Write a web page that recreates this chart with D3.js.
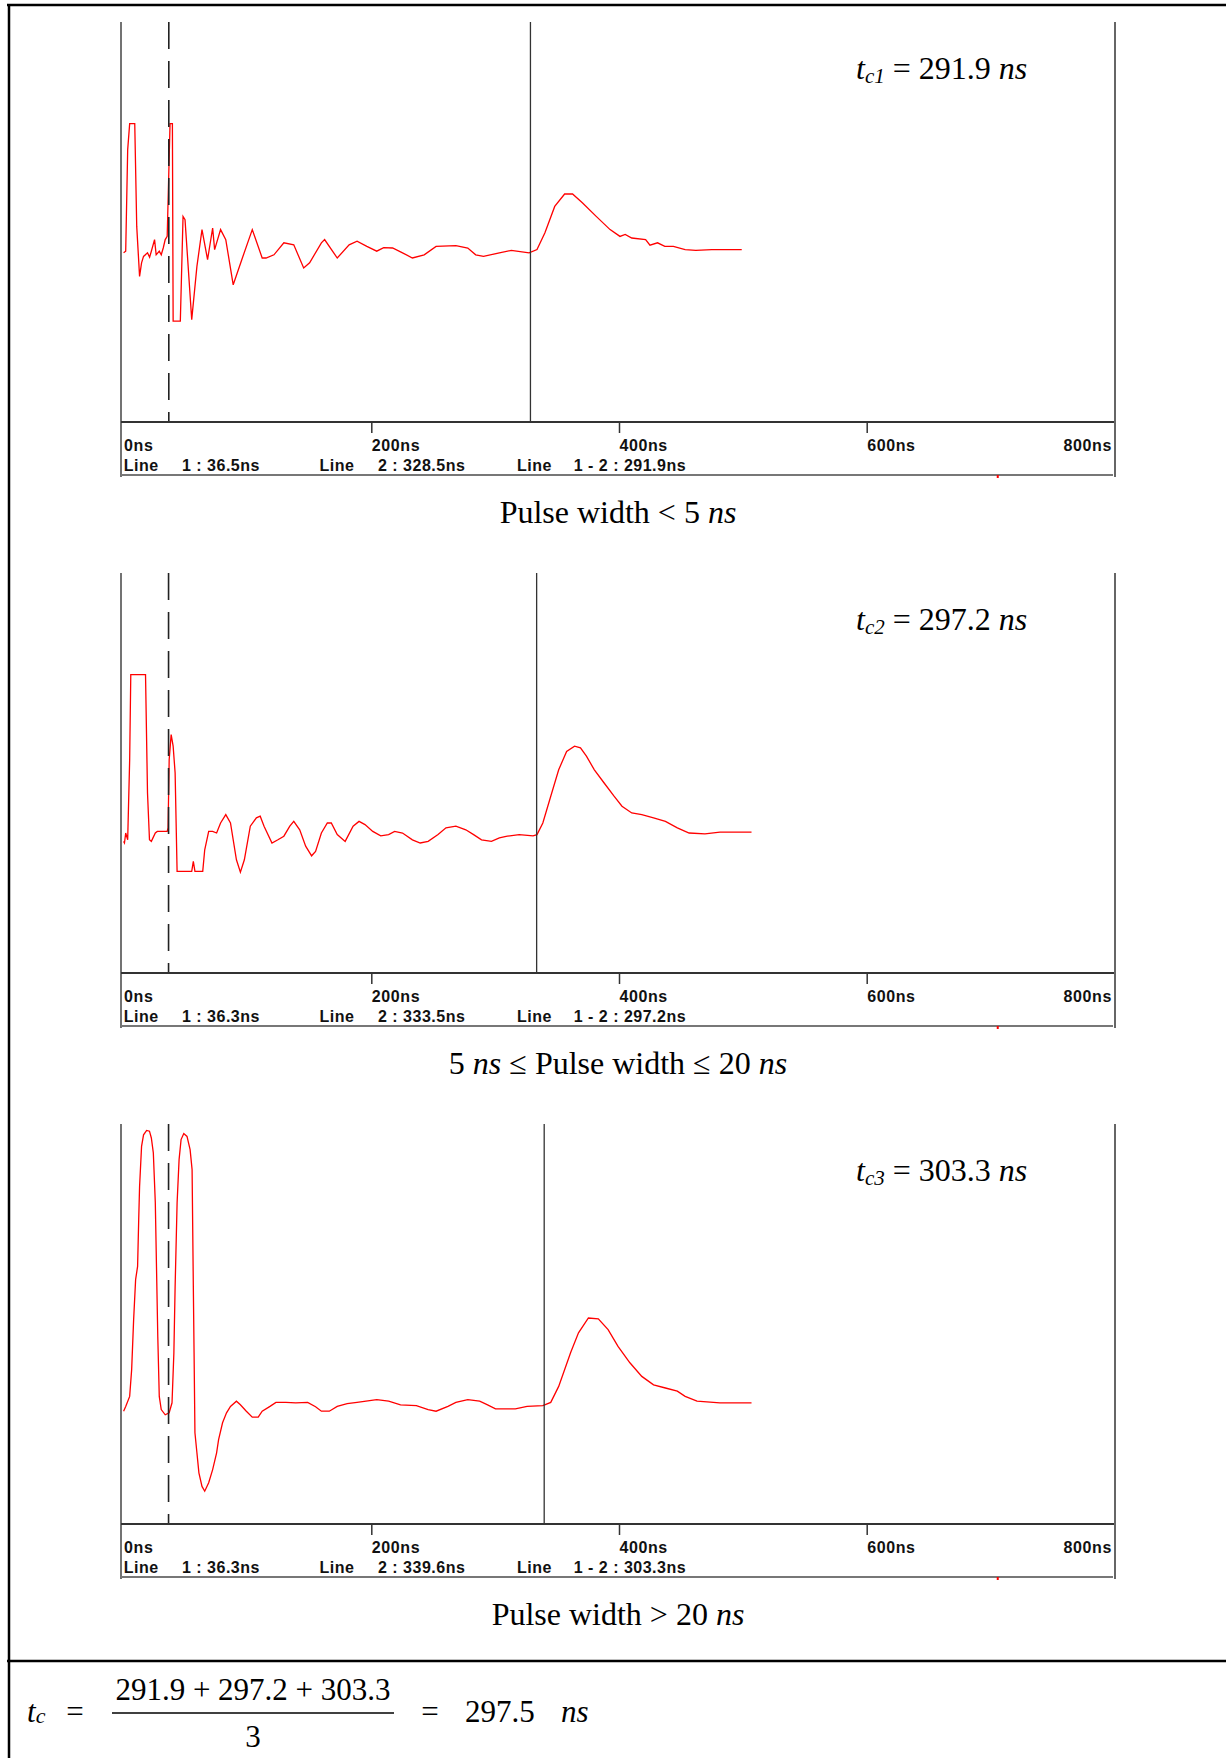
<!DOCTYPE html>
<html>
<head>
<meta charset="utf-8">
<script src="https://cdn.jsdelivr.net/npm/d3@7"></script>
<style>
  body { margin: 0; background: #fff; }
</style>
</head>
<body>
<div id="viz"></div>
<script>
const w = 1226;
const h = 1758;

// time axis ticks (ns)
const tickValues = [0, 200, 400, 600, 800];

// cursor readings for the three cases (ns)
const line1 = [36.5, 36.3, 36.3];
const line2 = [328.5, 333.5, 339.6];
const delta = [291.9, 297.2, 303.3];

// traces: [time in ns, amplitude in screen units, 0 = axis, 100 = top]
const trace1 = [
  [0, 42.3], [1.7, 42.7], [3.3, 68.1], [4.9, 74.6], [9.0, 74.6], [10.6, 48.9], [12.9, 36.4],
  [14.5, 39.8], [16.1, 41.4], [19.3, 42.3], [21, 41.2], [22.4, 42.7], [25.0, 45.6], [26.3, 41.8],
  [28.8, 42.7], [30.4, 41.8], [32.0, 43.5], [33.6, 45.6], [35.2, 46.4], [37.5, 74.6],
  [39.4, 74.6], [40.0, 25.2], [45.8, 25.2], [48.0, 51.4], [49.6, 50.6], [55.0, 25.6],
  [59.2, 38.9], [63.3, 48.1], [67.8, 40.6], [71.9, 48.5], [73.5, 43.1], [78.3, 48.1],
  [82.5, 45.6], [88.5, 34.3], [95.9, 41.0], [103.9, 48.1], [111.9, 41.0], [115.0, 41.0],
  [121.4, 41.8], [129.4, 44.8], [137.4, 44.3], [145.4, 38.5], [150.2, 39.8], [159.7, 44.8],
  [162.3, 45.6], [172.5, 41.0], [182.1, 44.3], [188.5, 45.2], [196.4, 43.9], [204.4, 42.7],
  [210, 43.6], [217.2, 43.5], [225.2, 42.3], [233.2, 41.0], [242.7, 41.8], [252.3, 43.9],
  [268.3, 44.1], [277.9, 43.5], [284.3, 41.8], [290.6, 41.4], [303.4, 42.3], [313.0, 42.9],
  [327.4, 42.3], [333.8, 43.1], [340.2, 47.3], [348.1, 53.9], [356.1, 57.0], [362.5, 57.0],
  [370.4, 54.8], [381.6, 51.4], [392.8, 48.1], [400.8, 46.4], [405, 46.9], [410.3, 46.0],
  [421.5, 45.6], [425, 44.2], [431.1, 44.8], [437, 43.9], [443.9, 43.9], [453.4, 43.1],
  [462.0, 42.9], [474.9, 43.1], [499.1, 43.1]
];
const trace2 = [
  [0, 32.9], [0.7, 32.5], [1.7, 35.0], [3.3, 33.3], [4.9, 53.3], [5.8, 74.6], [17.7, 74.6],
  [19.3, 45.0], [20.9, 33.3], [22.4, 32.9], [25.6, 35.0], [27.2, 35.4], [35.2, 35.4],
  [35.9, 36.3], [36.8, 53.3], [38.4, 59.6], [40.0, 56.7], [41.6, 50.0], [43.2, 25.4],
  [55.0, 25.4], [56.3, 27.9], [57.6, 25.4], [63.9, 25.4], [65.5, 30.8], [68.7, 35.4],
  [71.9, 35.4], [75.1, 35.0], [78.3, 37.5], [82.5, 39.6], [86.3, 37.5], [91.1, 28.3],
  [94.3, 25.2], [97.5, 28.3], [102.3, 36.7], [107.2, 38.8], [110.3, 39.2], [113.4, 36.7],
  [119.8, 32.5], [124.6, 33.3], [129.4, 34.2], [134.2, 36.7], [137.4, 37.9], [142.2, 35.8],
  [147.0, 31.7], [151.8, 29.3], [155.0, 30.4], [159.7, 35.0], [164.5, 37.5], [167.7, 37.5],
  [172.5, 34.6], [178.9, 32.9], [185.3, 36.7], [190.1, 37.9], [194.9, 37.1], [201.2, 35.4],
  [207.6, 34.3], [214.0, 34.6], [218.8, 35.4], [225.2, 35.0], [233.2, 33.3], [239.5, 32.5],
  [245.9, 32.9], [253.9, 34.6], [260.3, 36.3], [268.3, 36.7], [276.3, 35.8], [282.6, 34.6],
  [289.0, 33.3], [297.0, 32.9], [303.4, 33.8], [309.8, 34.2], [319.4, 34.6], [330.6, 34.3],
  [333.8, 34.6], [338.5, 37.5], [344.9, 44.2], [351.3, 50.8], [357.7, 55.4], [364.1, 56.7],
  [368.9, 56.3], [373.7, 54.2], [380.1, 50.8], [388.0, 47.5], [396.0, 44.2], [402.4, 41.7],
  [410.3, 40.0], [418.4, 39.6], [427.9, 38.8], [437.5, 37.9], [447.1, 36.3], [456.6, 35.0],
  [469.4, 34.8], [481.5, 35.2], [507, 35.2]
];
const trace3 = [
  [0, 28.2], [1.7, 29.4], [4.9, 31.9], [6.5, 38.6], [8.1, 51.1], [9.7, 61.1], [11.3, 64.4],
  [12.2, 76.1], [12.9, 84.4], [14.5, 94.4], [16.1, 97.3], [18.6, 98.4], [20.9, 98.2],
  [22.4, 96.5], [24.0, 92.8], [25.6, 80.3], [26.6, 63.6], [27.6, 46.9], [28.8, 31.9],
  [30.4, 28.6], [33.6, 27.3], [36.8, 27.8], [39.1, 30.3], [40.6, 42.8], [41.6, 59.4],
  [43.2, 80.3], [44.8, 91.1], [46.4, 96.1], [48.6, 97.6], [51.2, 96.9], [53.7, 93.6],
  [55.3, 88.6], [56.3, 59.4], [56.9, 42.8], [57.6, 22.8], [59.2, 17.8], [60.8, 12.8],
  [63.3, 9.4], [65.5, 8.2], [68.7, 10.3], [71.9, 13.6], [75.1, 17.8], [76.7, 21.1],
  [79.9, 25.3], [83.1, 27.8], [86.3, 29.4], [91.1, 30.7], [94.3, 29.8], [99.1, 28.2],
  [103.9, 26.7], [108.7, 26.7], [111.9, 28.2], [118.2, 29.4], [123.0, 30.4], [131.0, 30.4],
  [139.0, 30.3], [148.6, 30.4], [155.0, 29.3], [159.7, 28.2], [166.1, 28.2], [172.5, 29.4],
  [180.5, 30.1], [188.5, 30.4], [204.4, 31.1], [214.0, 30.7], [223.6, 29.8], [236.4, 29.6],
  [245.9, 28.6], [252.3, 28.2], [261.9, 29.4], [268.3, 30.4], [277.9, 31.1], [287.5, 30.7],
  [293.9, 29.8], [300.3, 28.8], [316.3, 28.8], [325.8, 29.4], [338.5, 29.6], [344.9, 30.4],
  [351.3, 34.4], [360.9, 42.8], [367.3, 47.8], [375.3, 51.5], [383.3, 51.3], [391.2, 48.6],
  [399.2, 44.4], [408.8, 40.3], [418.4, 36.9], [427.9, 34.8], [437.5, 34.0], [447.1, 33.2],
  [453.4, 31.9], [463.0, 30.7], [481.5, 30.3], [507, 30.3]
];
const traces = [trace1, trace2, trace3];

// captions under each panel: [text, italic?]
const captions = [
  [['Pulse width < 5 ', false], ['ns', true]],
  [['5 ', false], ['ns', true], [' \u2264 Pulse width \u2264 20 ', false], ['ns', true]],
  [['Pulse width > 20 ', false], ['ns', true]]
];

const serif = '"Liberation Serif", "Times New Roman", serif';
const sans = '"Liberation Sans", Arial, sans-serif';

const svg = d3.select('#viz').append('svg')
    .attr('width', w)
    .attr('height', h)
    .style('display', 'block');

svg.append('rect').attr('width', w).attr('height', h).attr('fill', '#fff');

// outer table lines
svg.append('line').attr('x1', 7).attr('x2', w).attr('y1', 5).attr('y2', 5)
    .attr('stroke', '#000').attr('stroke-width', 2.5);
svg.append('line').attr('x1', 9).attr('x2', 9).attr('y1', 4).attr('y2', h)
    .attr('stroke', '#000').attr('stroke-width', 2.5);
svg.append('line').attr('x1', 7).attr('x2', w).attr('y1', 1661).attr('y2', 1661)
    .attr('stroke', '#000').attr('stroke-width', 2.5);

const plotH = 400;
const left = 121;
const right = 1115;

const x = d3.scaleLinear().domain([0, 800]).range([123.6, 1114.4]);
const y = d3.scaleLinear().domain([0, 100]).range([plotH, 0]);

const line = d3.line().x(d => x(d[0])).y(d => y(d[1]));

traces.forEach((trace, i) => {
  const g = svg.append('g').attr('transform', `translate(0,${22 + i * 551})`);

  // frame
  g.append('line').attr('x1', left).attr('x2', left).attr('y1', 0).attr('y2', 455)
      .attr('stroke', '#444').attr('stroke-width', 1.5);
  g.append('line').attr('x1', right).attr('x2', right).attr('y1', 0).attr('y2', 455)
      .attr('stroke', '#666').attr('stroke-width', 2);
  g.append('line').attr('x1', left).attr('x2', right - 2).attr('y1', 453).attr('y2', 453)
      .attr('stroke', '#777').attr('stroke-width', 2);
  g.append('rect').attr('x', x(705)).attr('y', 453).attr('width', 2).attr('height', 3)
      .attr('fill', '#f00');

  // waveform
  g.append('path')
      .datum(trace)
      .attr('d', line)
      .attr('fill', 'none')
      .attr('stroke', '#ff0000')
      .attr('stroke-width', 1.3);

  // cursors
  g.append('line').attr('x1', x(line1[i])).attr('x2', x(line1[i]))
      .attr('y1', 0).attr('y2', plotH)
      .attr('stroke', '#222').attr('stroke-width', 1.6)
      .attr('stroke-dasharray', '27,12');
  g.append('line').attr('x1', x(line2[i])).attr('x2', x(line2[i]))
      .attr('y1', 0).attr('y2', plotH)
      .attr('stroke', '#333').attr('stroke-width', 1.3);

  // time axis
  g.append('line').attr('x1', left).attr('x2', right - 1).attr('y1', plotH).attr('y2', plotH)
      .attr('stroke', '#333').attr('stroke-width', 2);

  const axis = g.append('g')
      .attr('transform', `translate(0,${plotH})`)
      .call(d3.axisBottom(x).tickValues(tickValues).tickSize(11).tickFormat(d => d + 'ns'));
  axis.select('.domain').remove();
  axis.attr('font-family', sans).attr('font-size', 16).attr('font-weight', 'bold');
  axis.selectAll('.tick line')
      .attr('stroke', '#333').attr('stroke-width', 1.5)
      .attr('opacity', d => (d === 0 || d === 800) ? 0 : 1);
  axis.selectAll('.tick text')
      .attr('y', 28.5).attr('dy', null)
      .attr('fill', '#111')
      .attr('letter-spacing', 0.6)
      .attr('text-anchor', d => d === 800 ? 'end' : 'start')
      .attr('dx', d => d === 800 ? -3 : 0);

  // cursor readout row
  const readout = [
    [123.7, 'Line'], [182, `1 : ${line1[i]}ns`],
    [319.5, 'Line'], [378, `2 : ${line2[i]}ns`],
    [517, 'Line'], [573.7, `1 - 2 : ${delta[i]}ns`]
  ];
  g.selectAll('.readout').data(readout).enter().append('text')
      .attr('x', d => d[0]).attr('y', plotH + 48.5)
      .attr('font-family', sans).attr('font-size', 16).attr('font-weight', 'bold')
      .attr('letter-spacing', 0.5)
      .attr('fill', '#111')
      .text(d => d[1]);

  // t_c annotation
  const ann = g.append('text').attr('x', 856).attr('y', 57)
      .attr('font-family', serif).attr('font-size', 32).attr('fill', '#000');
  ann.append('tspan').attr('font-style', 'italic').text('t');
  ann.append('tspan').attr('font-style', 'italic').attr('font-size', 21).attr('dy', 4).text('c' + (i + 1));
  ann.append('tspan').attr('dy', -4).text(` = ${delta[i]} `);
  ann.append('tspan').attr('font-style', 'italic').text('ns');

  // caption
  const cap = g.append('text').attr('x', 618).attr('y', 500.7)
      .attr('text-anchor', 'middle')
      .attr('font-family', serif).attr('font-size', 32).attr('fill', '#000');
  captions[i].forEach(seg => {
    cap.append('tspan').attr('font-style', seg[1] ? 'italic' : 'normal').text(seg[0]);
  });
});

// average formula
const mean = d3.mean(delta);
const f = svg.append('g').attr('font-family', serif).attr('font-size', 31).attr('fill', '#000');

const tc = f.append('text').attr('x', 27).attr('y', 1722);
tc.append('tspan').attr('font-style', 'italic').text('t');
tc.append('tspan').attr('font-style', 'italic').attr('font-size', 22).attr('dy', 1).text('c');

f.append('text').attr('x', 75).attr('y', 1722).attr('text-anchor', 'middle').text('=');
f.append('text').attr('x', 253).attr('y', 1700).attr('text-anchor', 'middle')
    .text(delta.join(' + '));
f.append('line').attr('x1', 112).attr('x2', 394).attr('y1', 1713).attr('y2', 1713)
    .attr('stroke', '#000').attr('stroke-width', 1.5);
f.append('text').attr('x', 253).attr('y', 1747).attr('text-anchor', 'middle').text(delta.length);
f.append('text').attr('x', 430).attr('y', 1722).attr('text-anchor', 'middle').text('=');
f.append('text').attr('x', 465).attr('y', 1722).text(mean.toFixed(1));
f.append('text').attr('x', 561).attr('y', 1722).attr('font-style', 'italic').text('ns');
</script>
</body>
</html>
